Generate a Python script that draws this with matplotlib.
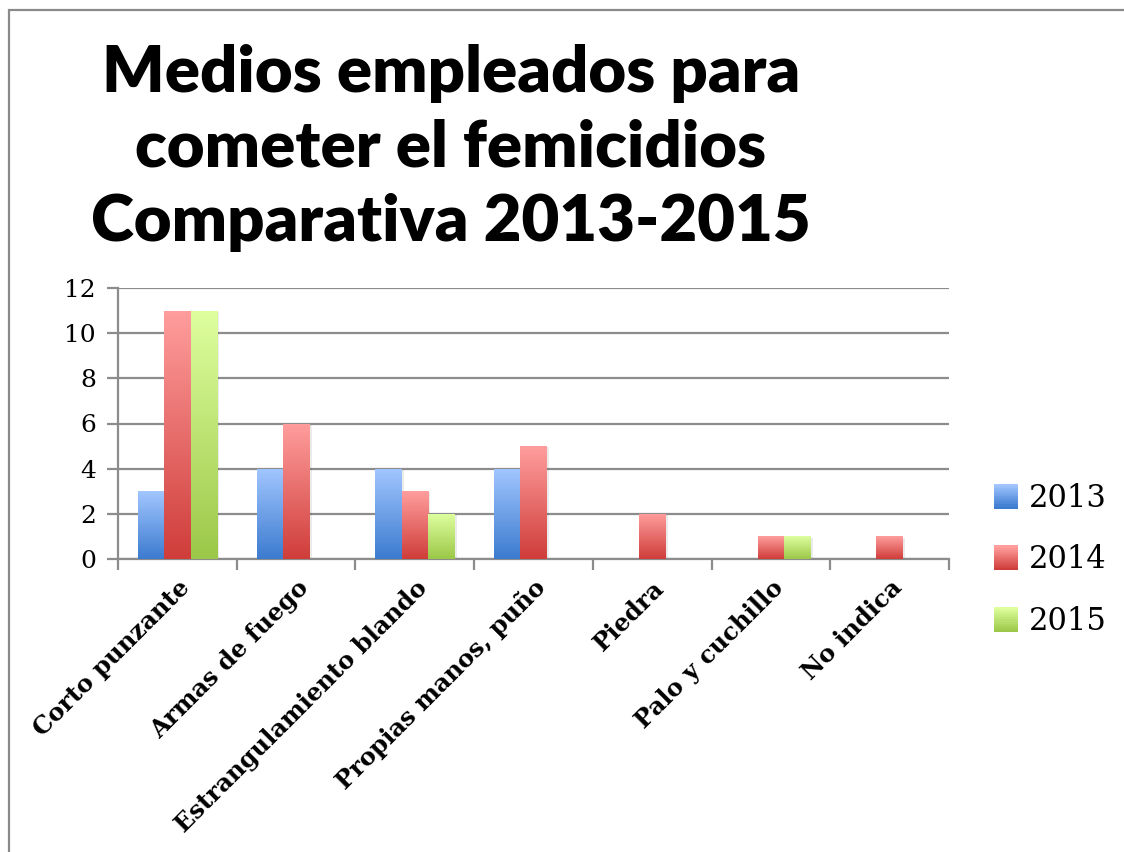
import numpy as np
import matplotlib
matplotlib.use("Agg")
import matplotlib.pyplot as plt
from matplotlib.patches import Rectangle
from matplotlib.colors import LinearSegmentedColormap
from matplotlib.legend_handler import HandlerBase

categories = ["Corto punzante", "Armas de fuego", "Estrangulamiento blando",
              "Propias manos, puño", "Piedra", "Palo y cuchillo", "No indica"]
series_names = ["2013", "2014", "2015"]
v2013 = [3, 4, 4, 4, 0, 0, 0]
v2014 = [11, 6, 3, 5, 2, 1, 1]
v2015 = [11, 0, 2, 0, 0, 1, 0]
yticks = [0, 2, 4, 6, 8, 10, 12]
title = "Medios empleados para\ncometer el femicidios\nComparativa 2013-2015"

# (top colour, bottom colour)
grads = [("#A2C6FF", "#3C7BCF"), ("#FF9E9D", "#CF3D3A"), ("#DFFF9F", "#9BC848")]

W, H = 1124, 852
fig = plt.figure(figsize=(W / 100, H / 100), dpi=100)
fig.patch.set_facecolor("white")

# outer chart border
fig.add_artist(Rectangle((9 / W, -0.05), 1.2, 1 - 10 / H + 0.05, transform=fig.transFigure,
                         fill=False, edgecolor="#8a8a8a", linewidth=1.6))

ax = fig.add_axes([118 / W, 1 - 559 / H, (949 - 118) / W, (559 - 288) / H])
ax.set_xlim(0, len(categories))
ax.set_ylim(0, 12)

n = len(series_names)
bw = 1 / 4.5
x = np.arange(len(categories)) + 0.5
grad_img = np.linspace(1, 0, 256).reshape(-1, 1)
for i, vals in enumerate([v2013, v2014, v2015]):
    top, bot = grads[i]
    cmap = LinearSegmentedColormap.from_list("g%d" % i, [bot, top])
    xs = x + (i - 1) * bw
    bars = ax.bar(xs, vals, width=bw, color=top, edgecolor="none", zorder=3,
                  label=series_names[i])
    for b in bars:
        h = b.get_height()
        if h <= 0:
            continue
        x0 = b.get_x()
        ax.add_patch(Rectangle((x0 + 0.02, 0), b.get_width(), h - 0.05, facecolor="#000000",
                               alpha=0.08, edgecolor="none", zorder=2.5))
        im = ax.imshow(grad_img, cmap=cmap, aspect="auto", extent=(x0, x0 + b.get_width(), 0, h),
                       zorder=3.5, interpolation="bilinear", vmin=0, vmax=1)
        im.set_clip_path(b)

ax.set_ylim(0, 12)
ax.set_xlim(0, len(categories))

ax.set_yticks(yticks)
ax.set_yticklabels([str(t) for t in yticks], fontfamily="DejaVu Serif", fontsize=18)
ax.yaxis.grid(True, color="#8c8c8c", linewidth=1.6, zorder=1)
ax.set_axisbelow(True)

ax.set_xticks(np.arange(len(categories) + 1))
ax.set_xticklabels([])
ax.set_xticks(x, minor=True)
ax.set_xticklabels(categories, minor=True, rotation=45, ha="right", rotation_mode="anchor",
                   fontfamily="DejaVu Serif", fontweight="bold", fontsize=17.5)
ax.tick_params(axis="x", which="minor", length=0, pad=12)
ax.tick_params(axis="x", which="major", length=8, width=1.6, color="#8c8c8c", direction="out")
ax.tick_params(axis="y", length=8, width=1.6, color="#8c8c8c", direction="out", pad=8)

for s in ["top", "right"]:
    ax.spines[s].set_visible(False)
for s in ["left", "bottom"]:
    ax.spines[s].set_color("#8c8c8c")
    ax.spines[s].set_linewidth(1.6)

fig.text(451 / W, 1 - 148 / H, title, ha="center", va="center", fontfamily="Lato",
         fontweight="heavy", fontsize=47, linespacing=1.33)

# legend
handles = [Rectangle((0, 0), 1, 1, facecolor=grads[i][0], edgecolor="none") for i in range(n)]


class GradHandler(HandlerBase):
    def __init__(self, idx):
        super().__init__()
        self.idx = idx

    def create_artists(self, legend, orig_handle, xdescent, ydescent, width, height, fontsize, trans):
        top, bot = grads[self.idx]
        arts = []
        steps = 12
        sz = height * 1.0
        x0 = xdescent * -1 + (width - sz)
        for k in range(steps):
            c = np.array(matplotlib.colors.to_rgb(bot)) * (1 - k / (steps - 1)) + \
                np.array(matplotlib.colors.to_rgb(top)) * (k / (steps - 1))
            r = Rectangle((x0, -ydescent + sz * k / steps), sz, sz / steps + 0.3,
                          facecolor=c, edgecolor="none", transform=trans)
            arts.append(r)
        return arts


leg = fig.legend(handles, series_names, loc="center left", bbox_to_anchor=(965 / W, 1 - 560 / H),
                 frameon=False, prop={"family": "DejaVu Serif", "size": 22},
                 handler_map={handles[i]: GradHandler(i) for i in range(n)},
                 handlelength=0.85, handleheight=0.85, handletextpad=0.35, labelspacing=1.0)

fig.savefig("out.png", dpi=100, facecolor="white")
